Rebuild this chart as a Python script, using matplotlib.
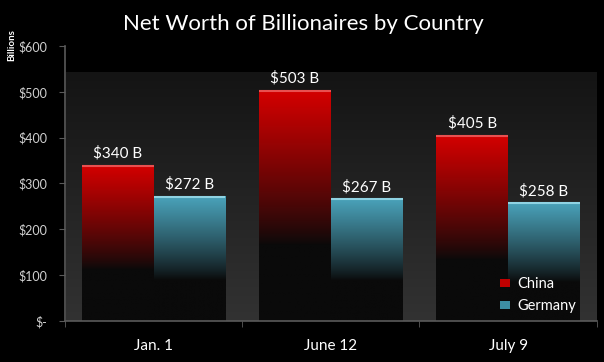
import matplotlib
matplotlib.use("Agg")
import matplotlib.pyplot as plt
import numpy as np
from matplotlib.colors import LinearSegmentedColormap, to_rgb
from matplotlib.patches import Patch

categories = ["Jan. 1", "June 12", "July 9"]
china = [340, 503, 405]
germany = [272, 267, 258]
value_labels_china = ["$340 B", "$503 B", "$405 B"]
value_labels_germany = ["$272 B", "$267 B", "$258 B"]
yticks = [0, 100, 200, 300, 400, 500, 600]
ytick_labels = ["$-", "$100", "$200", "$300", "$400", "$500", "$600"]

plt.rcParams['font.family'] = ['Lato', 'DejaVu Sans']

fig = plt.figure(figsize=(6.04, 3.62), dpi=100, facecolor="black")
ax = fig.add_axes([0.1076, 0.1133, 0.988 - 0.1076, 0.873 - 0.1133])
ax.set_facecolor("black")
ax.set_xlim(-0.5, 2.5)
ax.set_ylim(0, 600)

# background panel gradient
grad = np.linspace(0, 1, 256).reshape(-1, 1)
panel_cmap = LinearSegmentedColormap.from_list("panel", ["#141414", "#323232"])
ax.imshow(grad, extent=(-0.495, 2.5, 0, 543), aspect="auto", cmap=panel_cmap,
          origin="upper", zorder=0, clip_on=False)

x = np.arange(len(categories))
w = 0.405
bars_c = ax.bar(x - w / 2, china, width=w, color="none", zorder=2)
bars_g = ax.bar(x + w / 2, germany, width=w, color="none", zorder=2)

def grad_bar(rect, top_color, edge_color):
    x0 = rect.get_x()
    h = rect.get_height()
    wd = rect.get_width()
    n = 256
    t = np.linspace(0, 1, n)  # 0 bottom, 1 top
    top = np.array(to_rgb(top_color))
    dark = np.array(to_rgb("#0a0a0a"))
    f = np.clip((t - 0.33) / (1 - 0.33), 0, 1)
    f = f ** 0.85
    cols = dark[None, :] * (1 - f[:, None]) + top[None, :] * f[:, None]
    img = cols[::-1].reshape(n, 1, 3)
    ax.imshow(img, extent=(x0, x0 + wd, 0, h), aspect="auto", zorder=2,
              interpolation="bilinear")
    ax.plot([x0, x0 + wd], [h - 1.5, h - 1.5], color=edge_color, lw=1.5,
            zorder=3, solid_capstyle="butt")

for r in bars_c:
    grad_bar(r, "#d40000", "#e85050")
for r in bars_g:
    grad_bar(r, "#4aa3bb", "#8fd3e3")

for r, lab in zip(bars_c, value_labels_china):
    ax.text(r.get_x() + r.get_width() / 2, r.get_height() + 10, lab,
            ha="center", va="bottom", color="white", fontsize=11)
for r, lab in zip(bars_g, value_labels_germany):
    ax.text(r.get_x() + r.get_width() / 2, r.get_height() + 10, lab,
            ha="center", va="bottom", color="white", fontsize=11)

ax.set_xlim(-0.5, 2.5)
ax.set_ylim(0, 600)

for s in ["top", "right"]:
    ax.spines[s].set_visible(False)
for s in ["left", "bottom"]:
    ax.spines[s].set_color("#5a5a5a")
    ax.spines[s].set_linewidth(1.2)

ax.set_yticks(yticks)
ax.set_yticklabels(ytick_labels)
ax.tick_params(axis="y", colors="#5a5a5a", labelcolor="#d0d0d0", labelsize=9,
               length=4, direction="out", pad=9)
ax.set_xticks(x)
ax.set_xticklabels(categories)
ax.tick_params(axis="x", which="major", length=0, labelcolor="white",
               labelsize=11, pad=13)
ax.set_xticks([-0.5, 0.5, 1.5, 2.5], minor=True)
ax.tick_params(axis="x", which="minor", length=4, colors="#5a5a5a",
               direction="out")

fig.text(0.503, 0.934, "Net Worth of Billionaires by Country", ha="center",
         va="center", color="white", fontsize=16)
fig.text(0.02, 0.876, "Billions", rotation=90, ha="center", va="center",
         color="white", fontsize=7, fontweight="bold")

handles = [Patch(facecolor="#c00000", edgecolor="none"),
           Patch(facecolor="#3d8ea3", edgecolor="none")]
leg = ax.legend(handles, ["China", "Germany"], loc="lower right",
                bbox_to_anchor=(0.985, -0.02), frameon=False,
                labelcolor="white", fontsize=10.5, handlelength=0.7,
                handleheight=0.4, handletextpad=0.45, labelspacing=0.55)

fig.savefig("out.png", dpi=100, facecolor="black")
